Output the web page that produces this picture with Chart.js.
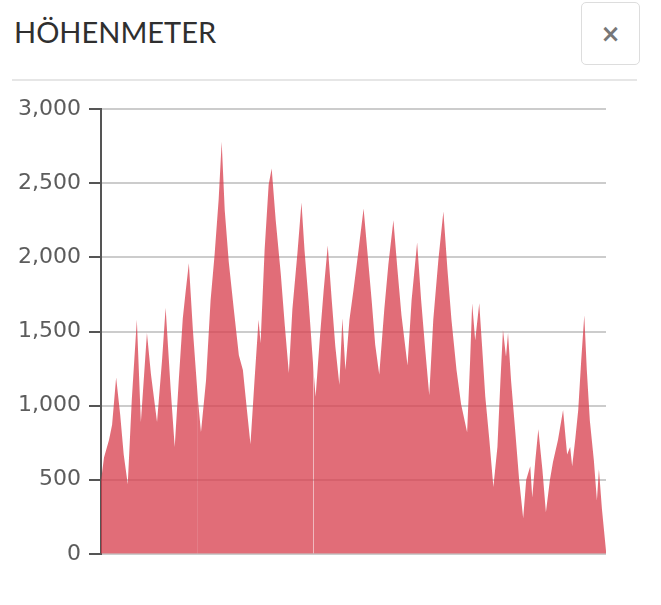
<!DOCTYPE html>
<html>
<head>
<meta charset="utf-8">
<script src="https://cdn.jsdelivr.net/npm/chart.js@4"></script>
<style>
  body { margin: 0; background: #fff; width: 661px; height: 605px; overflow: hidden; position: relative; }
  .title { position: absolute; left: 14px; top: 14px; font-family: Lato, sans-serif; font-size: 29px; color: #2f2f2f; }
  .close { position: absolute; left: 581px; top: 2px; width: 59px; height: 63px; border: 1px solid #ddd; border-radius: 5px;
           box-sizing: border-box; font-family: "DejaVu Sans", sans-serif; font-weight: bold; font-size: 24px; color: #777;
           display: flex; align-items: center; justify-content: center; }
  .sep { position: absolute; left: 12px; top: 79px; width: 625px; height: 2px; background: #e6e6e6; }
  #wrap { position: absolute; left: 0; top: 88px; }
</style>
</head>
<body>
<div class="title">HÖHENMETER</div>
<div class="close">×</div>
<div class="sep"></div>
<div id="wrap"><canvas id="profil" width="610" height="487"></canvas></div>
<script>
// distance along the track (km) and elevation (m)
const distance = [0, 0.6, 1.6, 2.2, 3.0, 3.8, 4.5, 5.3, 6.1, 7.1, 7.9, 9.1, 9.9, 11.1, 12.1, 12.8, 13.8, 14.6,
  15.4, 16.2, 16.8, 17.4, 18.2, 19.2, 19.8, 20.8, 21.7, 22.5, 23.3, 23.9, 24.5, 25.3, 26.3, 27.3, 28.1, 28.9, 29.6,
  30.4, 31.2, 31.6, 32.4, 33.2, 33.8, 34.6, 35.6, 36.4, 37.2, 37.9, 38.9, 39.7, 40.3, 41.1, 42.1, 42.5, 43.3, 44.1,
  44.9, 45.7, 46.4, 47.2, 47.8, 48.4, 49.2, 50.0, 51.0, 52.0, 52.8, 53.6, 54.3, 55.1, 56.1, 56.9, 57.9, 58.7, 59.5,
  60.7, 61.5, 62.6, 63.4, 64.2, 65.0, 65.8, 66.8, 67.8, 68.6, 69.4, 70.4, 71.3, 72.5, 73.1, 73.5, 74.1, 74.9, 75.5,
  76.1, 76.9, 77.7, 78.5, 79.1, 79.6, 80.2, 80.6, 81.2, 82.0, 82.8, 83.6, 84.2, 85.0, 85.4, 86.0, 86.6, 87.4, 88.1,
  88.9, 89.5, 90.5, 91.5, 92.3, 92.9, 93.3, 93.9, 94.5, 95.1, 95.7, 96.2, 96.8, 97.6, 98.2, 98.6, 99.2, 100];
const elevation = [490, 650, 770, 870, 1190, 940, 670, 470, 1040, 1580, 890, 1490, 1210, 890, 1310, 1660, 1110, 720,
  1170, 1590, 1780, 1960, 1510, 1040, 820, 1170, 1710, 2020, 2390, 2780, 2320, 1970, 1650, 1340, 1240, 970, 740,
  1170, 1580, 1420, 2050, 2490, 2600, 2250, 1890, 1540, 1220, 1650, 2030, 2370, 2050, 1710, 1230, 1060, 1440, 1780,
  2080, 1710, 1400, 1140, 1590, 1240, 1580, 1780, 2050, 2330, 2020, 1710, 1410, 1210, 1650, 1950, 2250, 1920, 1610,
  1270, 1710, 2100, 1710, 1380, 1070, 1580, 1980, 2310, 1920, 1580, 1240, 1010, 820, 1310, 1690, 1440, 1690, 1380,
  1060, 770, 450, 720, 1170, 1510, 1330, 1490, 1170, 840, 500, 240, 500, 590, 380, 630, 840, 570, 280,
  500, 620, 770, 970, 670, 720, 590, 770, 970, 1310, 1610, 1240, 900, 630, 360, 570, 300, 20];
// stage boundaries (km)
const stages = [0, 19.3, 42.1, 100];
const yTicks = [0, 500, 1000, 1500, 2000, 2500, 3000];

const datasets = [];
for (let s = 0; s < stages.length - 1; s++) {
  const pts = [];
  distance.forEach((d, i) => {
    if (d >= stages[s] - 0.15 && d <= stages[s + 1] + 0.15) pts.push({ x: d, y: elevation[i] });
  });
  datasets.push({
    data: pts,
    fill: 'origin',
    backgroundColor: 'rgba(215, 60, 75, 0.75)',
    borderWidth: 0,
    pointRadius: 0,
    tension: 0
  });
}

new Chart(document.getElementById('profil'), {
  type: 'line',
  data: { datasets: datasets },
  options: {
    responsive: false,
    animation: false,
    devicePixelRatio: 1,
    layout: { padding: { left: 10, right: 4, top: 0, bottom: 0 } },
    plugins: { legend: { display: false }, tooltip: { enabled: false } },
    scales: {
      x: { type: 'linear', min: 0, max: 100, display: false },
      y: {
        min: 0,
        max: 3000,
        afterBuildTicks: (axis) => { axis.ticks = yTicks.map(v => ({ value: v })) },
        ticks: { color: '#5c5c5c', padding: 8, font: { family: 'DejaVu Sans', size: 22 } },
        grid: { color: 'rgba(0,0,0,0.2)', lineWidth: 2, tickColor: '#555', tickLength: 12 },
        border: { color: '#555', width: 2 }
      }
    }
  }
});
</script>
</body>
</html>
